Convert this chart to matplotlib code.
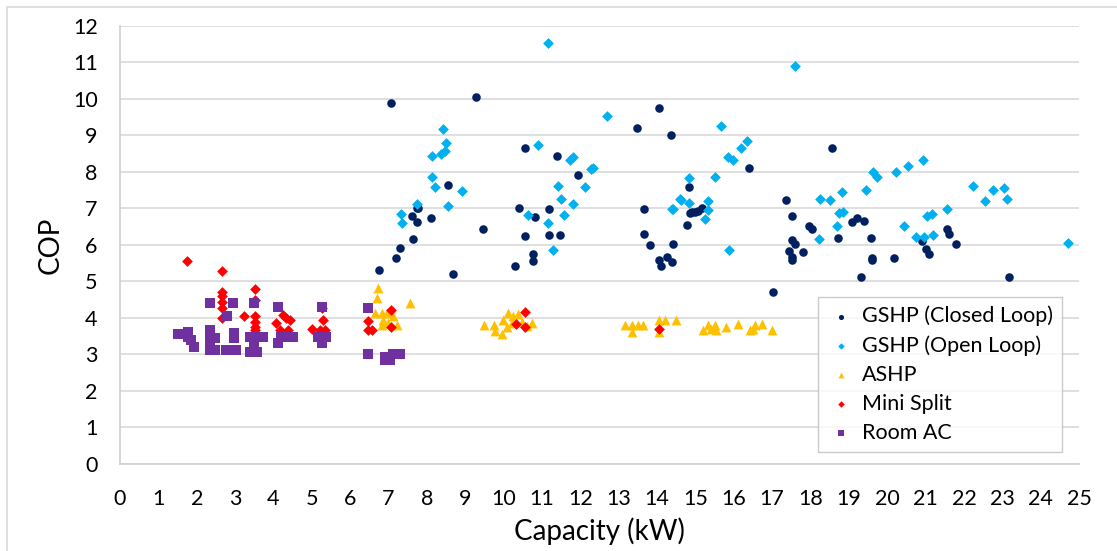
import matplotlib
matplotlib.use("Agg")
import matplotlib.pyplot as plt
from matplotlib.patches import Rectangle

# data: capacity (kW) and COP per series
closed_x = [7.06, 9.27, 6.76, 7.19, 7.30, 7.65, 7.60, 7.73, 7.78, 7.73, 8.11, 8.54, 8.69, 9.47,
            10.56, 10.40, 10.56, 10.82, 10.30, 10.77, 10.77, 11.38, 11.19, 11.19, 11.47, 11.95,
            13.49, 14.06, 14.36, 13.67, 13.67, 13.82, 14.06, 14.10, 14.25, 14.38, 14.42, 14.84,
            14.86, 14.90, 14.99, 15.07, 15.16, 14.77, 16.41, 17.36, 17.51, 17.51, 17.60, 17.44,
            17.51, 17.51, 17.81, 17.01, 18.57, 17.97, 18.05, 18.73, 19.09, 19.20, 19.40, 19.59,
            19.61, 19.61, 19.31, 20.18, 20.91, 21.00, 21.09, 21.57, 21.61, 21.79, 23.18]
closed_y = [9.90, 10.06, 5.32, 5.63, 5.91, 6.16, 6.79, 7.00, 7.02, 6.64, 6.73, 7.64, 5.21, 6.43,
            8.65, 7.00, 6.25, 6.76, 5.42, 5.75, 5.56, 8.44, 6.98, 6.27, 6.27, 7.92,
            9.20, 9.76, 9.01, 6.98, 6.30, 6.00, 5.59, 5.41, 5.66, 5.52, 6.03, 7.60,
            6.87, 6.91, 6.89, 6.94, 7.00, 6.54, 8.12, 7.23, 6.78, 6.14, 6.03, 5.84,
            5.68, 5.59, 5.81, 4.72, 8.65, 6.52, 6.43, 6.18, 6.62, 6.73, 6.66, 6.18,
            5.64, 5.58, 5.13, 5.64, 6.12, 5.88, 5.75, 6.43, 6.29, 6.03, 5.13]

open_x = [8.41, 8.50, 8.47, 8.38, 8.13, 8.13, 8.21, 8.91, 8.56, 7.73, 7.33, 7.34, 10.90, 12.69,
          11.73, 11.80, 12.29, 12.34, 12.12, 11.42, 11.49, 11.82, 11.58, 10.64, 11.15, 11.28,
          11.15, 14.42, 14.60, 17.60, 15.68, 15.86, 15.99, 16.20, 16.35, 15.51, 14.83, 14.62,
          14.83, 14.40, 15.32, 15.34, 15.25, 15.88, 18.25, 18.51, 18.83, 19.44, 19.64, 19.73,
          20.22, 20.55, 18.75, 18.84, 18.70, 18.23, 20.45, 20.75, 20.92, 22.24, 22.55, 22.76,
          23.05, 23.13, 24.70, 21.56, 21.18, 21.05, 21.20, 20.96]
open_y = [9.17, 8.80, 8.56, 8.49, 8.44, 7.87, 7.60, 7.49, 7.07, 7.12, 6.84, 6.59, 8.74, 9.52,
          8.33, 8.40, 8.07, 8.10, 7.58, 7.62, 7.25, 7.12, 6.82, 6.82, 6.61, 5.86,
          11.54, 6.98, 7.25, 10.90, 9.27, 8.42, 8.33, 8.65, 8.86, 7.87, 7.82, 7.23,
          7.14, 6.98, 7.20, 6.96, 6.71, 5.86, 7.26, 7.23, 7.46, 7.51, 8.01, 7.87,
          8.01, 8.16, 6.87, 6.89, 6.53, 6.16, 6.53, 6.23, 8.33, 7.62, 7.19, 7.51,
          7.57, 7.26, 6.05, 6.98, 6.85, 6.78, 6.26, 6.21]

ashp_x = [6.73, 6.69, 7.56, 6.65, 6.82, 6.95, 7.12, 6.86, 6.82, 6.99, 7.21,
          9.49, 9.75, 9.78, 9.95, 9.99, 10.12, 10.25, 10.38, 10.47, 10.73, 10.08, 10.21, 10.30, 10.61,
          13.16, 13.34, 13.51, 13.64, 13.34, 14.06, 14.21, 14.49, 14.06,
          15.21, 15.33, 15.51, 15.55, 15.81, 16.12, 16.42, 16.55, 16.73, 16.99, 15.40, 16.50]
ashp_y = [4.81, 4.54, 4.40, 4.13, 4.13, 4.13, 4.05, 3.95, 3.81, 3.85, 3.81,
          3.81, 3.81, 3.65, 3.56, 3.93, 4.13, 4.05, 4.10, 3.90, 3.87, 3.76, 3.85, 3.95, 3.78,
          3.81, 3.81, 3.81, 3.81, 3.62, 3.95, 3.95, 3.95, 3.62,
          3.67, 3.81, 3.81, 3.67, 3.74, 3.84, 3.67, 3.81, 3.84, 3.67, 3.70, 3.70]

mini_x = [1.76, 2.65, 2.65, 2.65, 2.65, 2.65, 2.65, 3.23, 3.51, 3.51, 3.51, 3.51, 3.51, 3.51,
          4.08, 4.24, 4.34, 4.43, 4.16, 4.38, 5.01, 5.21, 5.27, 5.30, 5.34,
          6.46, 6.46, 6.56, 7.06, 7.06, 10.56, 10.32, 10.56, 14.06]
mini_y = [5.56, 5.29, 4.72, 4.60, 4.45, 4.27, 4.00, 4.04, 4.79, 4.49, 4.04, 3.90, 3.76, 3.67,
          3.85, 4.08, 3.99, 3.95, 3.67, 3.67, 3.70, 3.67, 4.27, 3.95, 3.67,
          3.92, 3.67, 3.67, 4.22, 3.74, 4.15, 3.83, 3.76, 3.69]

room_x = [1.52, 1.65, 1.78, 1.78, 1.85, 1.94, 2.35, 2.35, 2.35, 2.35, 2.35, 2.48, 2.48,
          2.95, 2.80, 2.76, 2.89, 3.02, 2.98, 2.98, 3.50, 3.39, 3.52, 3.65, 3.74, 3.50, 3.39, 3.56,
          4.11, 4.11, 4.21, 4.34, 4.52, 5.27, 5.17, 5.38, 5.27,
          6.46, 6.46, 6.91, 7.04, 7.13, 7.30, 6.91, 7.04]
room_y = [3.56, 3.56, 3.62, 3.47, 3.40, 3.21, 4.40, 3.67, 3.49, 3.31, 3.12, 3.12, 3.45,
          4.40, 4.05, 3.12, 3.12, 3.12, 3.45, 3.59, 4.40, 3.49, 3.49, 3.49, 3.49, 3.35, 3.08, 3.08,
          4.29, 3.32, 3.47, 3.47, 3.47, 4.29, 3.49, 3.49, 3.31,
          4.27, 3.01, 2.94, 2.94, 3.01, 3.01, 2.85, 2.85]

plt.rcParams['font.family'] = ['Lato', 'DejaVu Sans']

fig = plt.figure(figsize=(11.17, 5.51), dpi=100)
ax = fig.add_axes([0.1074, 0.158, 0.8586, 0.795])

ax.scatter(closed_x, closed_y, marker='o', s=38, color='#002060', label='GSHP (Closed Loop)', zorder=3, linewidths=0)
ax.scatter(open_x, open_y, marker='D', s=30, color='#00B0F0', label='GSHP (Open Loop)', zorder=3, linewidths=0)
ax.scatter(ashp_x, ashp_y, marker='^', s=50, color='#FFC000', label='ASHP', zorder=3, linewidths=0)
ax.scatter(mini_x, mini_y, marker='D', s=30, color='#FF0000', label='Mini Split', zorder=3, linewidths=0)
ax.scatter(room_x, room_y, marker='s', s=42, color='#7030A0', label='Room AC', zorder=3, linewidths=0)

ax.set_xlim(0, 25)
ax.set_ylim(0, 12)
ax.set_xticks(range(0, 26))
ax.set_yticks(range(0, 13))
ax.tick_params(length=0, labelsize=15.5, colors='#000000')
ax.tick_params(axis='x', pad=18)
ax.tick_params(axis='y', pad=16)
ax.grid(axis='y', color='#D9D9D9', linewidth=1.2)
ax.set_axisbelow(True)
for s in ['top', 'right']:
    ax.spines[s].set_visible(False)
for s in ['left', 'bottom']:
    ax.spines[s].set_color('#D0D0D0')
    ax.spines[s].set_linewidth(1.2)

ax.set_xlabel('Capacity (kW)', fontsize=20, labelpad=6)
ax.set_ylabel('COP', fontsize=20, labelpad=7)

leg = ax.legend(loc='lower right', bbox_to_anchor=(0.982, 0.027), fontsize=15.5, frameon=True,
                fancybox=False, edgecolor='#BFBFBF', markerscale=0.6, handletextpad=0.3,
                labelspacing=0.42, borderpad=0.42, handlelength=1.3, borderaxespad=0)
leg.get_frame().set_linewidth(1.0)

# chart border (only top/left fall inside the picture)
fig.patches.append(Rectangle((7 / 1117, -0.1), 2, 1.1 - 7 / 551, transform=fig.transFigure,
                             fill=False, edgecolor='#D9D9D9', linewidth=1.2))

fig.savefig('out.png', dpi=100)
